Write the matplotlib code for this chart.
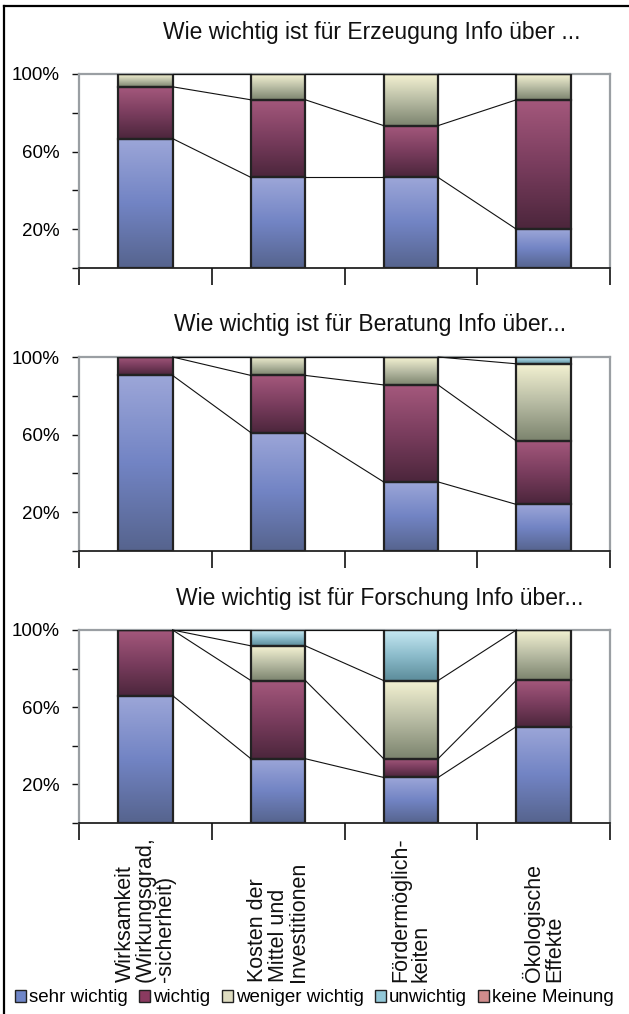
import numpy as np
import matplotlib.pyplot as plt
from matplotlib.colors import LinearSegmentedColormap
from matplotlib.patches import Patch
from matplotlib.lines import Line2D

plt.rcParams['font.family'] = ['Liberation Sans', 'DejaVu Sans']

# categories and series
categories = ['Wirksamkeit\n(Wirkungsgrad,\n-sicherheit)',
              'Kosten der\nMittel und\nInvestitionen',
              'Fördermöglich-\nkeiten',
              'Ökologische\nEffekte']
series = ['sehr wichtig', 'wichtig', 'weniger wichtig', 'unwichtig', 'keine Meinung']
titles = ['Wie wichtig ist für Erzeugung Info über ...',
          'Wie wichtig ist für Beratung Info über...',
          'Wie wichtig ist für Forschung Info über...']

# percentages
erz_sehr = [66.7, 46.7, 46.7, 20.0]
erz_wichtig = [26.7, 40.0, 26.7, 66.7]
erz_weniger = [6.6, 13.3, 26.6, 13.3]
erz_unwichtig = [0, 0, 0, 0]
erz_keine = [0, 0, 0, 0]

ber_sehr = [90.5, 61.0, 35.6, 24.0]
ber_wichtig = [9.5, 29.5, 50.0, 32.7]
ber_weniger = [0, 9.5, 14.4, 39.8]
ber_unwichtig = [0, 0, 0, 3.5]
ber_keine = [0, 0, 0, 0]

for_sehr = [66.0, 33.3, 23.6, 50.0]
for_wichtig = [34.0, 40.5, 9.7, 24.0]
for_weniger = [0, 18.0, 40.5, 26.0]
for_unwichtig = [0, 8.2, 26.2, 0]
for_keine = [0, 0, 0, 0]

panels = [
    [erz_sehr, erz_wichtig, erz_weniger, erz_unwichtig, erz_keine],
    [ber_sehr, ber_wichtig, ber_weniger, ber_unwichtig, ber_keine],
    [for_sehr, for_wichtig, for_weniger, for_unwichtig, for_keine],
]

# gradient colours (dark bottom -> light top) and legend colours
grads = [('#56648e', '#7284c4', '#9ca6d8'),
         ('#4c263c', '#7a3d5e', '#a4587c'),
         ('#7c846e', '#b8bca4', '#f4f2d2'),
         ('#5c8c9a', '#8cbccb', '#c6e8f2'),
         ('#a05050', '#d08080', '#f0b0b0')]
legend_cols = ['#6f86c8', '#8a3a60', '#dedcc0', '#92c8d8', '#d08c8c']

W, H = 629, 1014
fig = plt.figure(figsize=(W / 100, H / 100), dpi=100)

ax_left = 79
ax_right = 610
boxes = [(74, 268), (357, 551), (630, 823)]
title_y = [32, 325, 598]
title_x = [372, 370, 380]

width = 0.41
x = np.arange(len(categories)) + 0.5
grad = np.linspace(0, 1, 100).reshape(-1, 1)

for p, (top, bot) in enumerate(boxes):
    ax = fig.add_axes([ax_left / W, 1 - bot / H, (ax_right - ax_left) / W, (bot - top) / H])
    data = panels[p]
    bottom = np.zeros(len(categories))
    tops = []
    for s, vals in enumerate(data):
        vals = np.array(vals, dtype=float)
        bars = ax.bar(x, vals, width, bottom=bottom, facecolor='none',
                      edgecolor='#222222', linewidth=1.6, zorder=4)
        cmap = LinearSegmentedColormap.from_list('g%d' % s, grads[s])
        for b in bars:
            if b.get_height() <= 0:
                continue
            bx, by = b.get_x(), b.get_y()
            ax.imshow(grad, extent=[bx, bx + b.get_width(), by, by + b.get_height()],
                      cmap=cmap, aspect='auto', origin='lower', zorder=3)
        bottom = bottom + vals
        tops.append(bottom.copy())

    # series lines between the bars
    for t in tops[:4]:
        for i in range(len(categories) - 1):
            ax.plot([x[i] + width / 2, x[i + 1] - width / 2], [t[i], t[i + 1]],
                    color='#111111', linewidth=0.8, zorder=5, clip_on=False)

    ax.set_xlim(0, len(categories))
    ax.set_ylim(0, 100)
    ax.set_xticks(np.arange(len(categories) + 1))
    ax.set_xticklabels([])
    ax.tick_params(axis='x', direction='out', length=12, width=1.2, color='#111111')
    ax.set_yticks([0, 20, 40, 60, 80, 100])
    ax.set_yticklabels(['', '20%', '', '60%', '', '100%'], fontsize=13.5)
    ax.tick_params(axis='y', direction='out', length=5, width=1.0, color='#111111', pad=9)
    for side in ['top', 'right', 'left']:
        ax.spines[side].set_color('#9a9fa3')
        ax.spines[side].set_linewidth(1.6)
    ax.spines['bottom'].set_color('#111111')
    ax.spines['bottom'].set_linewidth(1.2)

    fig.text(title_x[p] / W, 1 - title_y[p] / H, titles[p], ha='center', va='center',
             fontsize=16.5, color='#111111')

# category labels, rotated
for i, lab in enumerate(categories):
    cx = (ax_left + (ax_right - ax_left) * x[i] / len(categories)) / W
    fig.text(cx, 1 - 982 / H, lab, rotation=90, ha='center', va='bottom',
             multialignment='left', fontsize=15.5, linespacing=0.95, color='#111111')

handles = [Patch(facecolor=c, edgecolor='#222222', linewidth=1.0) for c in legend_cols]
fig.legend(handles, series, loc='center', bbox_to_anchor=(0.5, 1 - 998 / H), ncol=5,
           frameon=False, handlelength=0.6, handleheight=0.6, handletextpad=0.15,
           columnspacing=0.6, fontsize=13.5, borderaxespad=0)

# outer frame (left and top)
fig.add_artist(Line2D([4 / W, 4 / W], [0, 1 - 6 / H], color='black', linewidth=1.6,
                      transform=fig.transFigure))
fig.add_artist(Line2D([4 / W, 1], [1 - 6 / H, 1 - 6 / H], color='black', linewidth=1.6,
                      transform=fig.transFigure))

fig.savefig('out.png', dpi=100)
